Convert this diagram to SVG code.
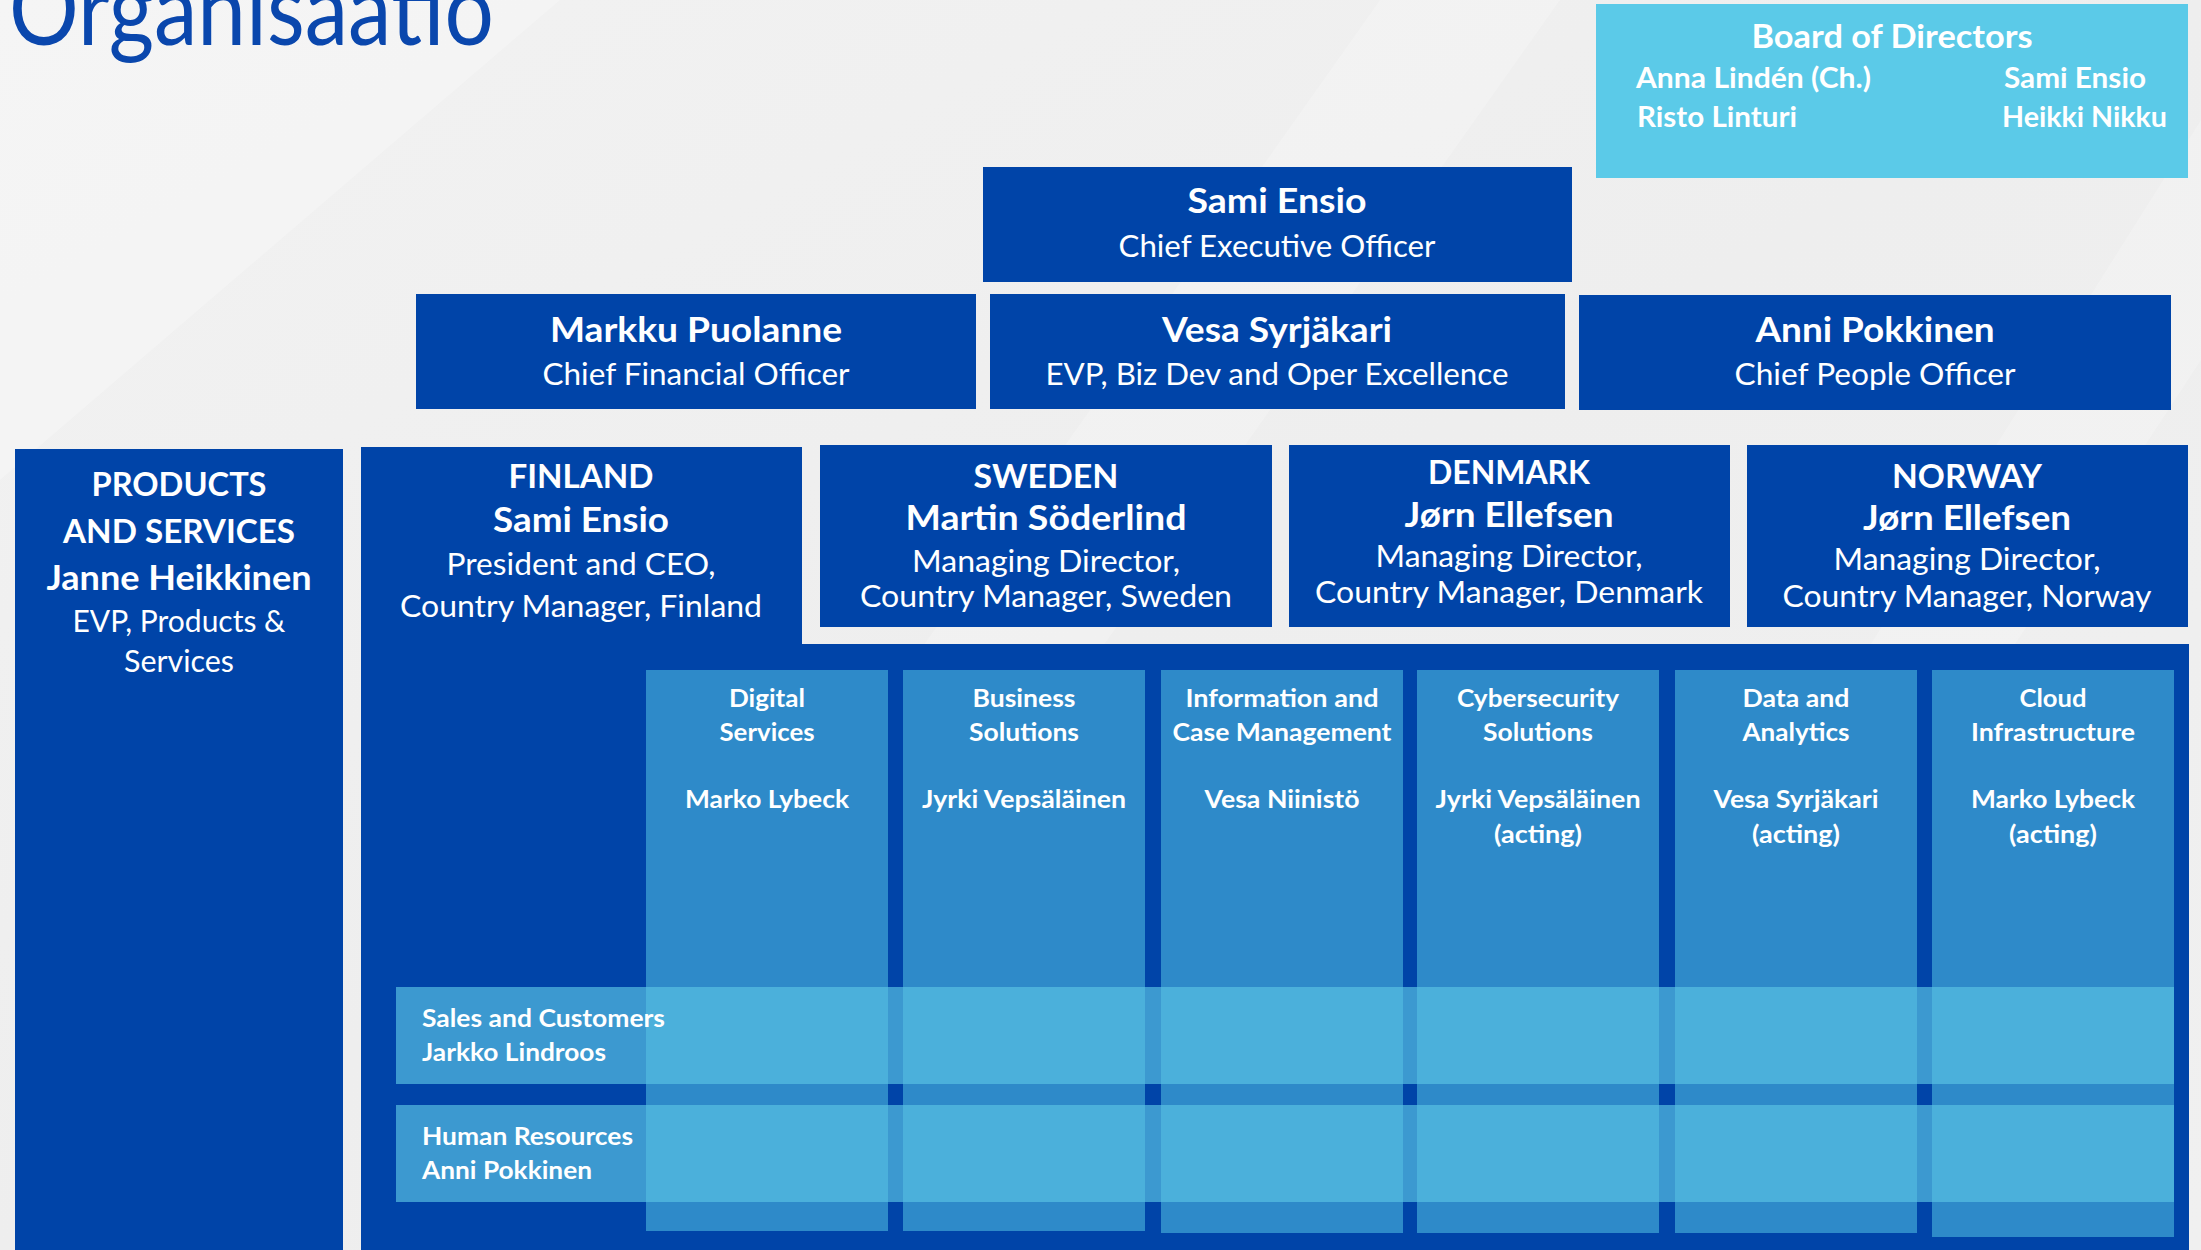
<svg xmlns="http://www.w3.org/2000/svg" width="2201" height="1250" viewBox="0 0 2201 1250">
<defs>
<linearGradient id="bg" x1="0" y1="0" x2="1" y2="1">
<stop offset="0" stop-color="#F2F2F2"/>
<stop offset="0.5" stop-color="#EEEEEE"/>
<stop offset="1" stop-color="#F0F0F0"/>
</linearGradient>
<style>
.dk{fill:#0044A8}
.col{fill:#2E8AC9}
.band{fill:#5AC4E4;opacity:0.67}
.brd{fill:#5BCAE8}
text{font-family:Lato,"Liberation Sans",sans-serif;fill:#FFFFFF;text-anchor:middle}
.b{font-weight:bold}
.l{text-anchor:start}
.nm{font-size:35px;font-weight:bold}
.cty{font-size:33px;font-weight:bold}
.sub{font-size:30px}
.sm{font-size:24px;font-weight:bold}
.bd{font-size:28px;font-weight:bold}
</style>
</defs>
<rect x="0" y="0" width="2201" height="1250" fill="url(#bg)"/>
<polygon points="0,0 560,0 0,480" fill="#FFFFFF" opacity="0.25"/>
<polygon points="1380,0 1560,0 980,820 800,820" fill="#FFFFFF" opacity="0.2"/>
<polygon points="2201,120 2201,360 1900,820 1760,820" fill="#FFFFFF" opacity="0.2"/>

<g id="title">
<text class="l" x="9" y="45" font-size="100" textLength="485" lengthAdjust="spacingAndGlyphs" style="fill:#0A47AD">Organisaatio</text>
</g>

<g id="board">
<rect class="brd" x="1596" y="4" width="592" height="174"/>
<text x="1892" y="48" font-size="32" class="b" textLength="281" lengthAdjust="spacingAndGlyphs">Board of Directors</text>
<text class="bd l" x="1636" y="88" textLength="235" lengthAdjust="spacingAndGlyphs">Anna Lindén (Ch.)</text>
<text class="bd l" x="2004" y="88" textLength="142" lengthAdjust="spacingAndGlyphs">Sami Ensio</text>
<text class="bd l" x="1637" y="127" textLength="160" lengthAdjust="spacingAndGlyphs">Risto Linturi</text>
<text class="bd l" x="2002" y="127" textLength="165" lengthAdjust="spacingAndGlyphs">Heikki Nikku</text>
</g>

<g id="ceo">
<rect class="dk" x="983" y="167" width="589" height="115"/>
<text class="nm" x="1277" y="213" textLength="179" lengthAdjust="spacingAndGlyphs">Sami Ensio</text>
<text class="sub" x="1277" y="257" textLength="317" lengthAdjust="spacingAndGlyphs">Chief Executive Officer</text>
</g>

<g id="cfo">
<rect class="dk" x="416" y="294" width="560" height="115"/>
<text class="nm" x="696" y="342" textLength="292" lengthAdjust="spacingAndGlyphs">Markku Puolanne</text>
<text class="sub" x="696" y="385" textLength="307" lengthAdjust="spacingAndGlyphs">Chief Financial Officer</text>
</g>

<g id="evp-bizdev">
<rect class="dk" x="990" y="294" width="575" height="115"/>
<text class="nm" x="1277" y="342" textLength="230" lengthAdjust="spacingAndGlyphs">Vesa Syrjäkari</text>
<text class="sub" x="1277" y="385" textLength="463" lengthAdjust="spacingAndGlyphs">EVP, Biz Dev and Oper Excellence</text>
</g>

<g id="cpo">
<rect class="dk" x="1579" y="295" width="592" height="115"/>
<text class="nm" x="1875" y="342" textLength="239" lengthAdjust="spacingAndGlyphs">Anni Pokkinen</text>
<text class="sub" x="1875" y="385" textLength="281" lengthAdjust="spacingAndGlyphs">Chief People Officer</text>
</g>

<g id="products">
<rect class="dk" x="15" y="449" width="328" height="801"/>
<text class="cty" x="179" y="496" textLength="175" lengthAdjust="spacingAndGlyphs">PRODUCTS</text>
<text class="cty" x="179" y="543" textLength="232" lengthAdjust="spacingAndGlyphs">AND SERVICES</text>
<text class="nm" x="179" y="590" textLength="265" lengthAdjust="spacingAndGlyphs">Janne Heikkinen</text>
<text class="sub" x="179" y="632" textLength="213" lengthAdjust="spacingAndGlyphs">EVP, Products &amp;</text>
<text class="sub" x="179" y="672" textLength="110" lengthAdjust="spacingAndGlyphs">Services</text>
</g>

<g id="finland">
<path class="dk" d="M361,447 H802 V644 H2189 V1250 H361 Z"/>
<text class="cty" x="581" y="488" textLength="145" lengthAdjust="spacingAndGlyphs">FINLAND</text>
<text class="nm" x="581" y="532" textLength="176" lengthAdjust="spacingAndGlyphs">Sami Ensio</text>
<text class="sub" x="581" y="575" textLength="269" lengthAdjust="spacingAndGlyphs">President and CEO,</text>
<text class="sub" x="581" y="617" textLength="362" lengthAdjust="spacingAndGlyphs">Country Manager, Finland</text>
</g>

<g id="sweden">
<rect class="dk" x="820" y="445" width="452" height="182"/>
<text class="cty" x="1046" y="488" textLength="145" lengthAdjust="spacingAndGlyphs">SWEDEN</text>
<text class="nm" x="1046" y="530" textLength="281" lengthAdjust="spacingAndGlyphs">Martin Söderlind</text>
<text class="sub" x="1046" y="572" textLength="268" lengthAdjust="spacingAndGlyphs">Managing Director,</text>
<text class="sub" x="1046" y="607" textLength="372" lengthAdjust="spacingAndGlyphs">Country Manager, Sweden</text>
</g>

<g id="denmark">
<rect class="dk" x="1289" y="445" width="441" height="182"/>
<text class="cty" x="1509" y="484" textLength="162" lengthAdjust="spacingAndGlyphs">DENMARK</text>
<text class="nm" x="1509" y="527" textLength="209" lengthAdjust="spacingAndGlyphs">Jørn Ellefsen</text>
<text class="sub" x="1509" y="567" textLength="267" lengthAdjust="spacingAndGlyphs">Managing Director,</text>
<text class="sub" x="1509" y="603" textLength="388" lengthAdjust="spacingAndGlyphs">Country Manager, Denmark</text>
</g>

<g id="norway">
<rect class="dk" x="1747" y="445" width="441" height="182"/>
<text class="cty" x="1967" y="488" textLength="150" lengthAdjust="spacingAndGlyphs">NORWAY</text>
<text class="nm" x="1967" y="530" textLength="208" lengthAdjust="spacingAndGlyphs">Jørn Ellefsen</text>
<text class="sub" x="1967" y="570" textLength="267" lengthAdjust="spacingAndGlyphs">Managing Director,</text>
<text class="sub" x="1967" y="607" textLength="369" lengthAdjust="spacingAndGlyphs">Country Manager, Norway</text>
</g>

<g id="digital-services">
<rect class="col" x="646" y="670" width="242" height="561"/>
<text class="sm" x="767" y="707" textLength="76" lengthAdjust="spacingAndGlyphs">Digital</text>
<text class="sm" x="767" y="741" textLength="95" lengthAdjust="spacingAndGlyphs">Services</text>
<text class="sm" x="767" y="808" textLength="164" lengthAdjust="spacingAndGlyphs">Marko Lybeck</text>
</g>

<g id="business-solutions">
<rect class="col" x="903" y="670" width="242" height="561"/>
<text class="sm" x="1024" y="707" textLength="103" lengthAdjust="spacingAndGlyphs">Business</text>
<text class="sm" x="1024" y="741" textLength="110" lengthAdjust="spacingAndGlyphs">Solutions</text>
<text class="sm" x="1024" y="808" textLength="204" lengthAdjust="spacingAndGlyphs">Jyrki Vepsäläinen</text>
</g>

<g id="information-case-management">
<rect class="col" x="1161" y="670" width="242" height="563"/>
<text class="sm" x="1282" y="707" textLength="193" lengthAdjust="spacingAndGlyphs">Information and</text>
<text class="sm" x="1282" y="741" textLength="219" lengthAdjust="spacingAndGlyphs">Case Management</text>
<text class="sm" x="1282" y="808" textLength="155" lengthAdjust="spacingAndGlyphs">Vesa Niinistö</text>
</g>

<g id="cybersecurity-solutions">
<rect class="col" x="1417" y="670" width="242" height="563"/>
<text class="sm" x="1538" y="707" textLength="162" lengthAdjust="spacingAndGlyphs">Cybersecurity</text>
<text class="sm" x="1538" y="741" textLength="110" lengthAdjust="spacingAndGlyphs">Solutions</text>
<text class="sm" x="1538" y="808" textLength="205" lengthAdjust="spacingAndGlyphs">Jyrki Vepsäläinen</text>
<text class="sm" x="1538" y="843" textLength="88" lengthAdjust="spacingAndGlyphs">(acting)</text>
</g>

<g id="data-analytics">
<rect class="col" x="1675" y="670" width="242" height="563"/>
<text class="sm" x="1796" y="707" textLength="107" lengthAdjust="spacingAndGlyphs">Data and</text>
<text class="sm" x="1796" y="741" textLength="107" lengthAdjust="spacingAndGlyphs">Analytics</text>
<text class="sm" x="1796" y="808" textLength="165" lengthAdjust="spacingAndGlyphs">Vesa Syrjäkari</text>
<text class="sm" x="1796" y="843" textLength="88" lengthAdjust="spacingAndGlyphs">(acting)</text>
</g>

<g id="cloud-infrastructure">
<rect class="col" x="1932" y="670" width="242" height="567"/>
<text class="sm" x="2053" y="707" textLength="67" lengthAdjust="spacingAndGlyphs">Cloud</text>
<text class="sm" x="2053" y="741" textLength="164" lengthAdjust="spacingAndGlyphs">Infrastructure</text>
<text class="sm" x="2053" y="808" textLength="164" lengthAdjust="spacingAndGlyphs">Marko Lybeck</text>
<text class="sm" x="2053" y="843" textLength="88" lengthAdjust="spacingAndGlyphs">(acting)</text>
</g>

<g id="sales-customers">
<rect class="band" x="396" y="987" width="1778" height="97"/>
<text class="sm l" x="422" y="1027" textLength="243" lengthAdjust="spacingAndGlyphs">Sales and Customers</text>
<text class="sm l" x="422" y="1061" textLength="184" lengthAdjust="spacingAndGlyphs">Jarkko Lindroos</text>
</g>

<g id="human-resources">
<rect class="band" x="396" y="1105" width="1778" height="97"/>
<text class="sm l" x="422" y="1145" textLength="211" lengthAdjust="spacingAndGlyphs">Human Resources</text>
<text class="sm l" x="422" y="1179" textLength="170" lengthAdjust="spacingAndGlyphs">Anni Pokkinen</text>
</g>

<g id="connectors"/>
</svg>
